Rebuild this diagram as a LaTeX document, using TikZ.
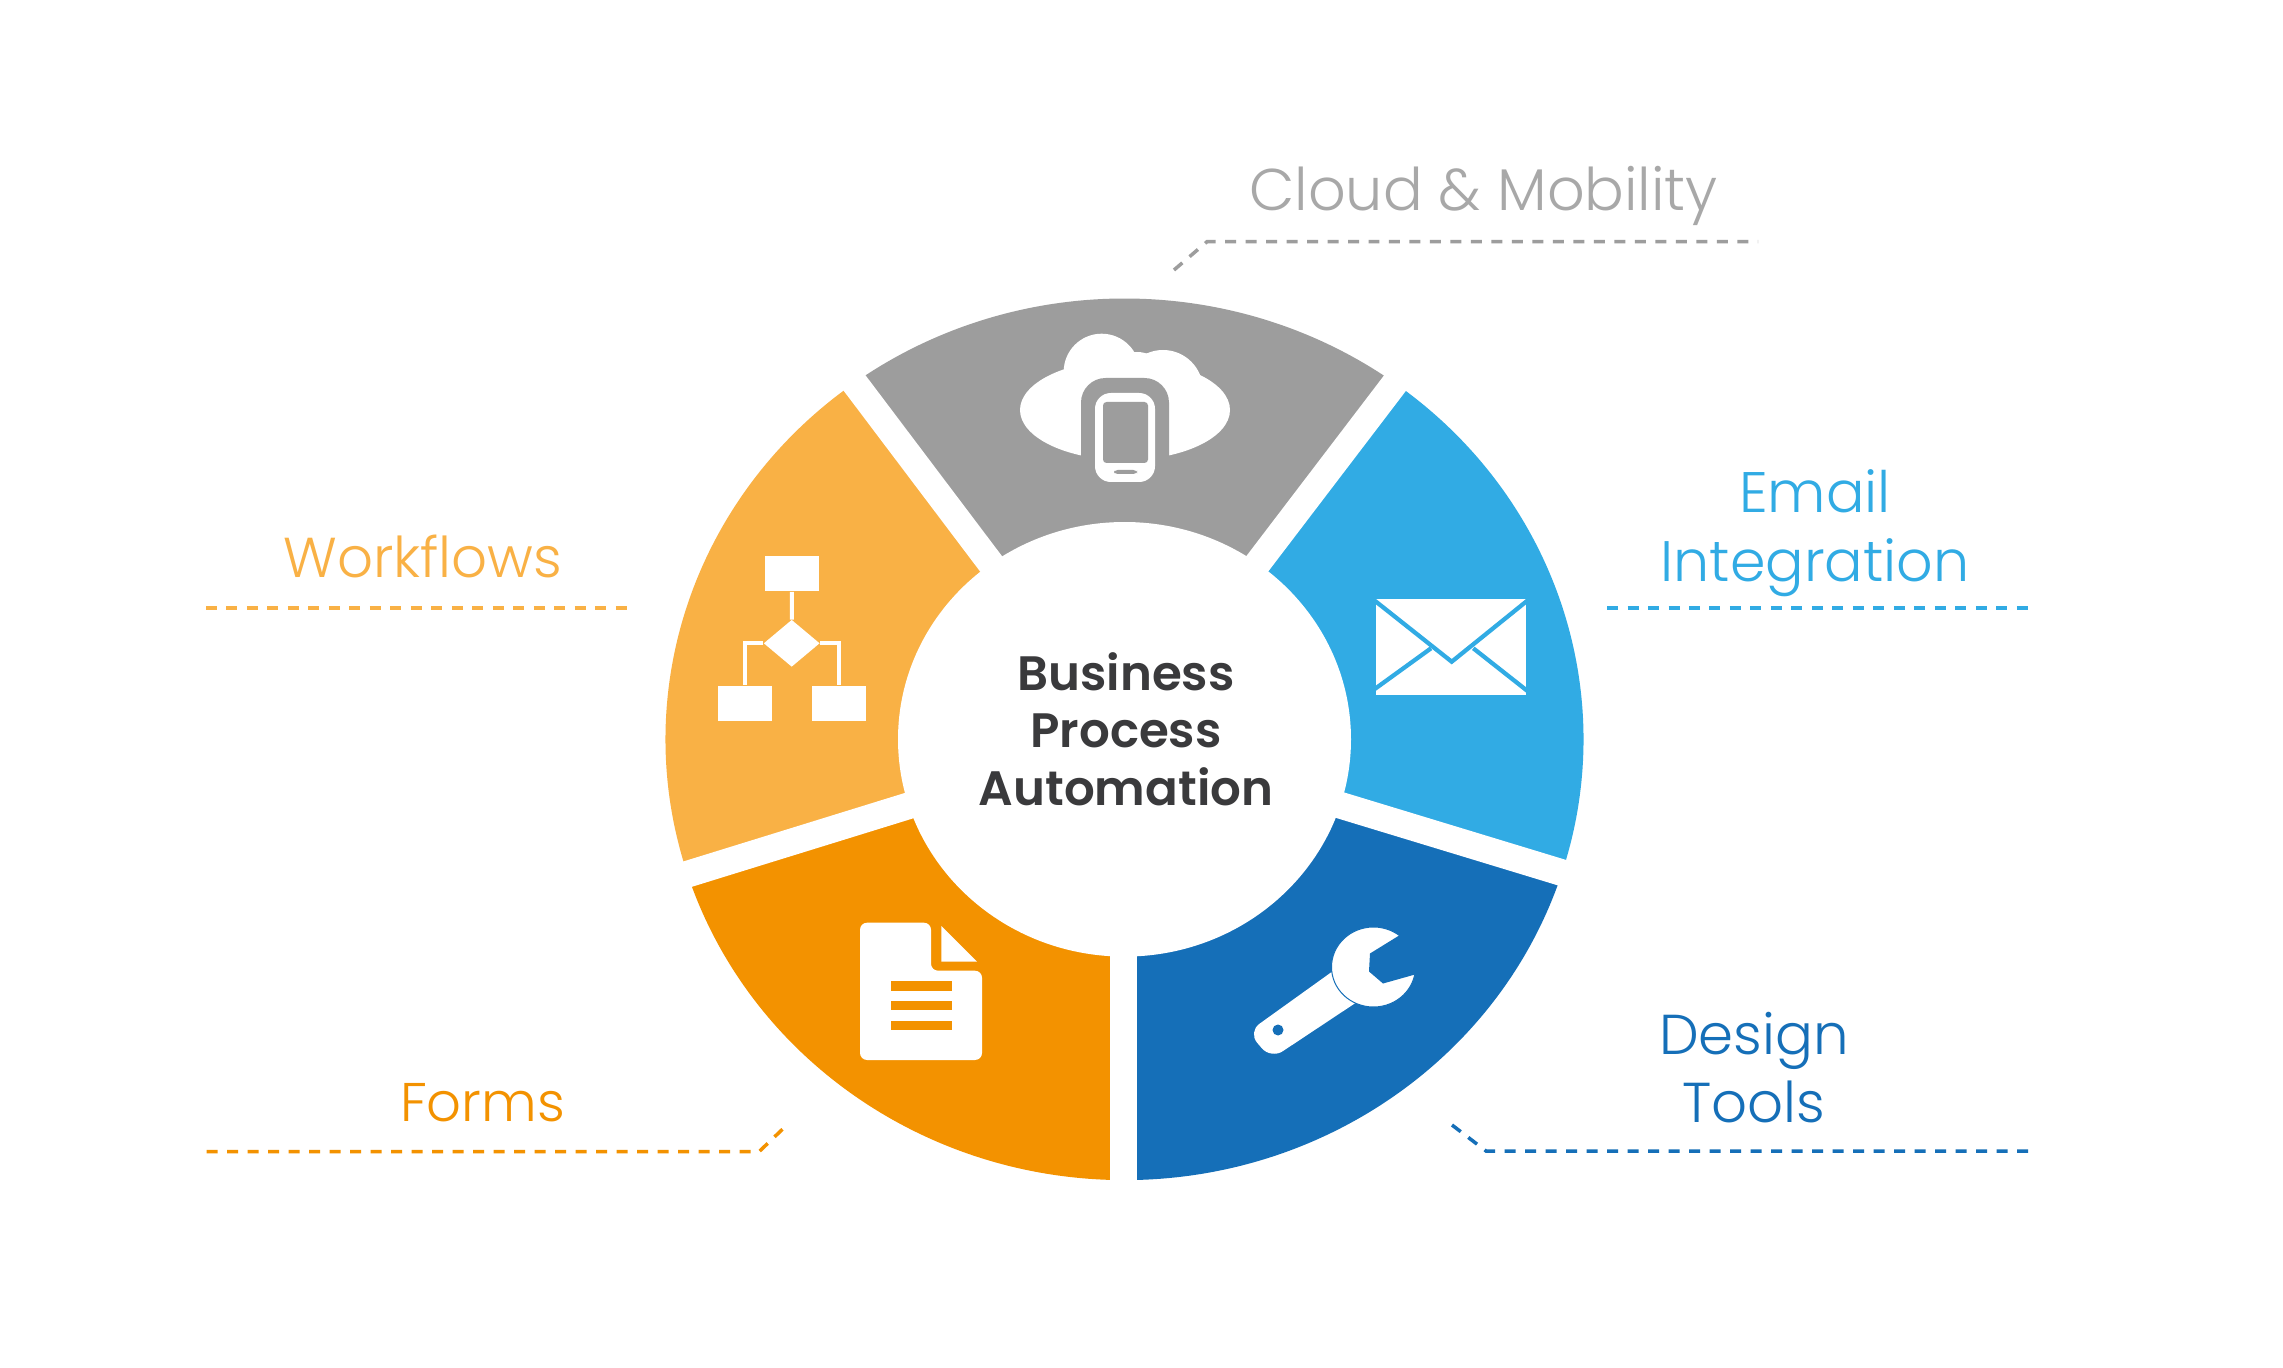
\documentclass[tikz,border=0pt]{standalone}
\usepackage{fontspec}
\usetikzlibrary{shapes.geometric}
\setmainfont{Poppins}[BoldFont=* SemiBold]
\newfontfamily\lblfont{Poppins}[UprightFont=* Light]
\definecolor{cgrey}{HTML}{9D9D9D}
\definecolor{camber}{HTML}{F9B145}
\definecolor{csky}{HTML}{31ABE4}
\definecolor{cdeep}{HTML}{156FB8}
\definecolor{corange}{HTML}{F39200}
\definecolor{cdark}{HTML}{3A3A3C}
\definecolor{cgreytext}{HTML}{A8A8A8}
\tikzset{
  x=0.02cm,y=-0.02cm,
  label text/.style={font=\lblfont\fontsize{#1}{39}\selectfont,inner sep=0pt,align=center,anchor=south,text depth=0pt},
  label text/.default=32,
  leader/.style={line width=0.07cm,dash pattern=on 0.22cm off 0.19cm},
  band/.style={white,line width=0.535cm},
  wflow/.style={white,line width=0.08cm},
  fbox/.style={fill=white,rectangle,minimum width=1.08cm,minimum height=0.72cm,inner sep=0pt},
  fdia/.style={fill=white,diamond,aspect=1.2,minimum width=1.12cm,minimum height=0.94cm,inner sep=0pt},
}
\newcommand{\wedgeseg}[3]{\fill[#1] (1124.5,739.3) -- ({1124.5+459*cos(#2)},{739.3+440.8*sin(#2)}) arc[start angle=#2,end angle=#3,x radius=459,y radius=440.8] -- cycle;}
\begin{document}
\begin{tikzpicture}
\useasboundingbox (0,0) rectangle (2283,1368);
\fill[white] (0,0) rectangle (2283,1368);
% ring segments
\wedgeseg{cgrey}{234}{306}
\wedgeseg{csky}{306}{378}
\wedgeseg{cdeep}{18}{90}
\wedgeseg{corange}{90}{162}
\wedgeseg{camber}{162}{234}
% gaps
\coordinate (ctr) at (1123.5,739.3);
\draw[band] (ctr) -- (828.9,349);
\draw[band] (ctr) -- (1421,349);
\draw[band] (ctr) -- (1605.8,886);
\draw[band] (ctr) -- (1123.5,1225);
\draw[band] (ctr) -- (644.4,887.5);
\fill[white] (1124.5,739.3) ellipse[x radius=226.5,y radius=217.3];
% centre text
\node[font=\bfseries\fontsize{27.5}{32.6}\selectfont,text=cdark,align=center,inner sep=0pt,anchor=south,text depth=0pt] (hub) at (1126,805.5) {Business\\Process\\Automation};
% cloud + phone
\fill[white] (1125,410) ellipse[x radius=105,y radius=50];
\fill[white] (1101.7,371.7) circle[radius=38];
\fill[white] (1163,390) circle[radius=40];
\fill[white] (1137,383) circle[radius=31];
\fill[cgrey,rounded corners=14] (1081,378) rectangle (1169,490);
\fill[white,rounded corners=9] (1095,393) rectangle (1155,482);
\fill[cgrey,rounded corners=2] (1103,402) rectangle (1148,463);
\fill[cgrey,rounded corners=2] (1114,470) rectangle (1137,474);
% flowchart
\node[fbox] (ftop) at (792,573.5) {};
\node[fdia] (fmid) at (791.7,643.3) {};
\node[fbox] (fleft) at (745,703.5) {};
\node[fbox] (fright) at (839,703.5) {};
\draw[wflow] (ftop) -- (fmid);
\draw[wflow] (fmid.west) -| (fleft.north);
\draw[wflow] (fmid.east) -| (fright.north);
% envelope
\fill[white] (1376,598.5) rectangle (1526,695);
\begin{scope}
\clip (1376,598.5) rectangle (1526,695);
\draw[csky,line width=0.085cm,line join=miter] (1372,598.5) -- (1451.7,661.7) -- (1530,598.5);
\draw[csky,line width=0.085cm] (1372,691) -- (1431,648.3);
\draw[csky,line width=0.085cm] (1530,693) -- (1473.3,648.3);
\end{scope}
% document
\fill[white,rounded corners=4] (860,922.7) -- (931,922.7) -- (931,970.7) -- (982,970.7) -- (982,1060) -- (860,1060) -- cycle;
\fill[white] (941.4,926) -- (977,961.7) -- (941.4,961.7) -- cycle;
\fill[corange] (891,981) rectangle (952,990.7);
\fill[corange] (891,1001) rectangle (952,1010);
\fill[corange] (891,1020.7) rectangle (952,1030);
% wrench
\fill[white,rounded corners=8] (1347,961) -- (1372,992) -- (1271,1059) -- (1248,1032) -- cycle;
\fill[cdeep] (1278,1030) circle[radius=5.5];
\filldraw[fill=white,draw=cdeep,line width=0.02cm] (1373.5,967) ellipse[x radius=42,y radius=40];
\fill[cdeep] (1404,932.5) -- (1370,953.5) -- (1369,971.5) -- (1383,983.5) -- (1415,974.5) -- (1440,950) -- cycle;
% labels
\node[label text=33.5,text=cgreytext] (lcloud) at (1483.6,211) {Cloud \& Mobility};
\node[label text=32.5,text=csky] (lemail) at (1815,581.7) {Email\\Integration};
\node[label text,text=camber] (lwork) at (423,578) {Workflows};
\node[label text=31,text=corange] (lforms) at (482.5,1121.7) {Forms};
\node[label text,text=cdeep] (ldesign) at (1754,1123) {Design\\Tools};
% leaders
\coordinate (c1) at (1174,270); \coordinate (c2) at (1207,241.7); \coordinate (c3) at (1758,241.7);
\draw[leader,cgrey] (c1) -- (c2) -- (c3);
\coordinate (e1) at (1607,608); \coordinate (e2) at (2037,608);
\draw[leader,csky] (e1) -- (e2);
\coordinate (w1) at (206,608); \coordinate (w2) at (636,608);
\draw[leader,camber] (w1) -- (w2);
\coordinate (f1) at (206.6,1151.7); \coordinate (f2) at (759,1151.7); \coordinate (f3) at (788,1124);
\draw[leader,corange] (f1) -- (f2) -- (f3);
\coordinate (d1) at (1452,1125); \coordinate (d2) at (1486,1151); \coordinate (d3) at (2037,1151);
\draw[leader,cdeep] (d1) -- (d2) -- (d3);
\end{tikzpicture}
\end{document}
